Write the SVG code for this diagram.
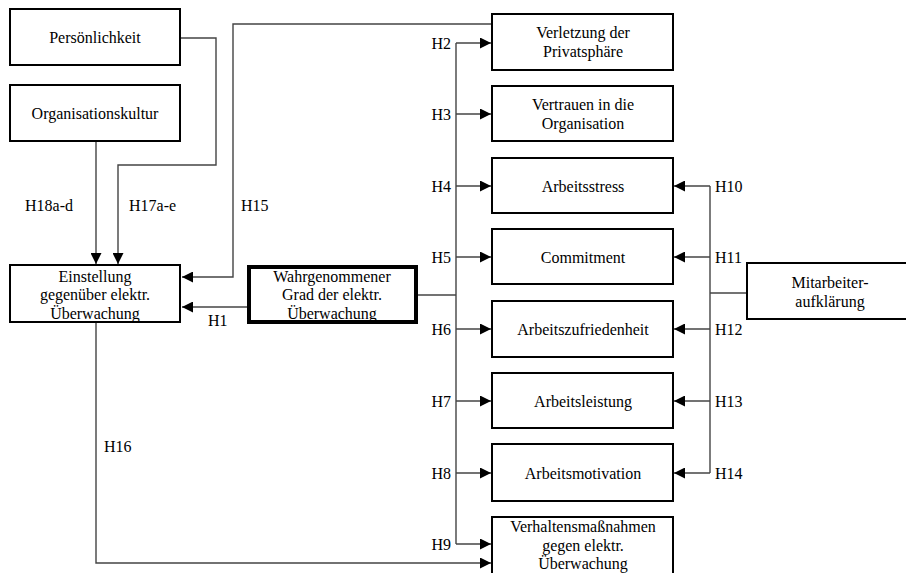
<svg xmlns="http://www.w3.org/2000/svg" width="906" height="573" viewBox="0 0 906 573">
<style>
.box{fill:#fff;stroke:#000;stroke-width:2}
.thick{fill:#fff;stroke:#000;stroke-width:4}
.t{font-family:"Liberation Serif","Times New Roman","DejaVu Serif",serif;font-size:16px;fill:#000}
.c{text-anchor:middle}
.r{text-anchor:end}
.ln{fill:none;stroke:#444;stroke-width:1.4}
</style>
<defs>
<marker id="ah" viewBox="0 0 10 10" refX="10" refY="5" markerWidth="11" markerHeight="11" markerUnits="userSpaceOnUse" orient="auto">
<path d="M0,0 L10,5 L0,10 Z" fill="#000"/>
</marker>
</defs>
<rect width="906" height="573" fill="#fff"/>
<g id="connectors">
<path class="ln" d="M180,38 H216 V165 H118 V264" marker-end="url(#ah)"/>
<path class="ln" d="M96,141 V264" marker-end="url(#ah)"/>
<path class="ln" d="M492,24 H233 V277 H182" marker-end="url(#ah)"/>
<path class="ln" d="M247,307 H182" marker-end="url(#ah)"/>
<path class="ln" d="M418,295 H456"/>
<path class="ln" d="M456,43 V544"/>
<path class="ln" d="M456,43 H491" marker-end="url(#ah)"/>
<path class="ln" d="M456,114 H491" marker-end="url(#ah)"/>
<path class="ln" d="M456,186 H491" marker-end="url(#ah)"/>
<path class="ln" d="M456,257 H491" marker-end="url(#ah)"/>
<path class="ln" d="M456,329 H491" marker-end="url(#ah)"/>
<path class="ln" d="M456,401 H491" marker-end="url(#ah)"/>
<path class="ln" d="M456,473 H491" marker-end="url(#ah)"/>
<path class="ln" d="M456,544 H491" marker-end="url(#ah)"/>
<path class="ln" d="M96,322 V563 H491" marker-end="url(#ah)"/>
<path class="ln" d="M747,293 H710"/>
<path class="ln" d="M710,186 V473"/>
<path class="ln" d="M710,186 H674" marker-end="url(#ah)"/>
<path class="ln" d="M710,257 H674" marker-end="url(#ah)"/>
<path class="ln" d="M710,329 H674" marker-end="url(#ah)"/>
<path class="ln" d="M710,401 H674" marker-end="url(#ah)"/>
<path class="ln" d="M710,473 H674" marker-end="url(#ah)"/>
</g>
<g id="labels">
<text class="t" x="25" y="211">H18a-d</text>
<text class="t" x="129" y="211">H17a-e</text>
<text class="t" x="241" y="211">H15</text>
<text class="t" x="208" y="326">H1</text>
<text class="t" x="104" y="452">H16</text>
<text class="t r" x="451" y="49">H2</text>
<text class="t r" x="451" y="120">H3</text>
<text class="t r" x="451" y="192">H4</text>
<text class="t r" x="451" y="263">H5</text>
<text class="t r" x="451" y="335">H6</text>
<text class="t r" x="451" y="407">H7</text>
<text class="t r" x="451" y="479">H8</text>
<text class="t r" x="451" y="550">H9</text>
<text class="t" x="715" y="192">H10</text>
<text class="t" x="715" y="263">H11</text>
<text class="t" x="715" y="335">H12</text>
<text class="t" x="715" y="407">H13</text>
<text class="t" x="715" y="479">H14</text>
</g>
<g id="persoenlichkeit"><rect class="box" x="10" y="9" width="170" height="56"/><text class="t c" x="95" y="43">Persönlichkeit</text></g>
<g id="organisationskultur"><rect class="box" x="10" y="85" width="170" height="56"/><text class="t c" x="95" y="119">Organisationskultur</text></g>
<g id="einstellung"><rect class="box" x="10" y="265" width="170" height="57"/><text class="t c" x="95" y="282">Einstellung</text><text class="t c" x="95" y="300">gegenüber elektr.</text><text class="t c" x="95" y="319">Überwachung</text></g>
<g id="wahrgenommener"><rect class="thick" x="249" y="267" width="167" height="55"/><text class="t c" x="332" y="282">Wahrgenommener</text><text class="t c" x="332" y="300">Grad der elektr.</text><text class="t c" x="332" y="319">Überwachung</text></g>
<g id="verletzung"><rect class="box" x="492" y="14" width="181" height="56"/><text class="t c" x="583" y="38">Verletzung der</text><text class="t c" x="583" y="57">Privatsphäre</text></g>
<g id="vertrauen"><rect class="box" x="492" y="86" width="181" height="55"/><text class="t c" x="583" y="110">Vertrauen in die</text><text class="t c" x="583" y="129">Organisation</text></g>
<g id="arbeitsstress"><rect class="box" x="492" y="158" width="181" height="55"/><text class="t c" x="583" y="192">Arbeitsstress</text></g>
<g id="commitment"><rect class="box" x="492" y="229" width="181" height="55"/><text class="t c" x="583" y="263">Commitment</text></g>
<g id="arbeitszufriedenheit"><rect class="box" x="492" y="301" width="181" height="56"/><text class="t c" x="583" y="335">Arbeitszufriedenheit</text></g>
<g id="arbeitsleistung"><rect class="box" x="492" y="373" width="181" height="55"/><text class="t c" x="583" y="407">Arbeitsleistung</text></g>
<g id="arbeitsmotivation"><rect class="box" x="492" y="444" width="181" height="57"/><text class="t c" x="583" y="479">Arbeitsmotivation</text></g>
<g id="verhaltensmassnahmen"><rect class="box" x="492" y="517" width="181" height="70"/><text class="t c" x="583" y="532">Verhaltensmaßnahmen</text><text class="t c" x="583" y="551">gegen elektr.</text><text class="t c" x="583" y="569">Überwachung</text></g>
<g id="mitarbeiteraufklaerung"><rect class="box" x="747" y="263" width="170" height="56"/><text class="t c" x="830" y="288">Mitarbeiter-</text><text class="t c" x="830" y="307">aufklärung</text></g>
</svg>
